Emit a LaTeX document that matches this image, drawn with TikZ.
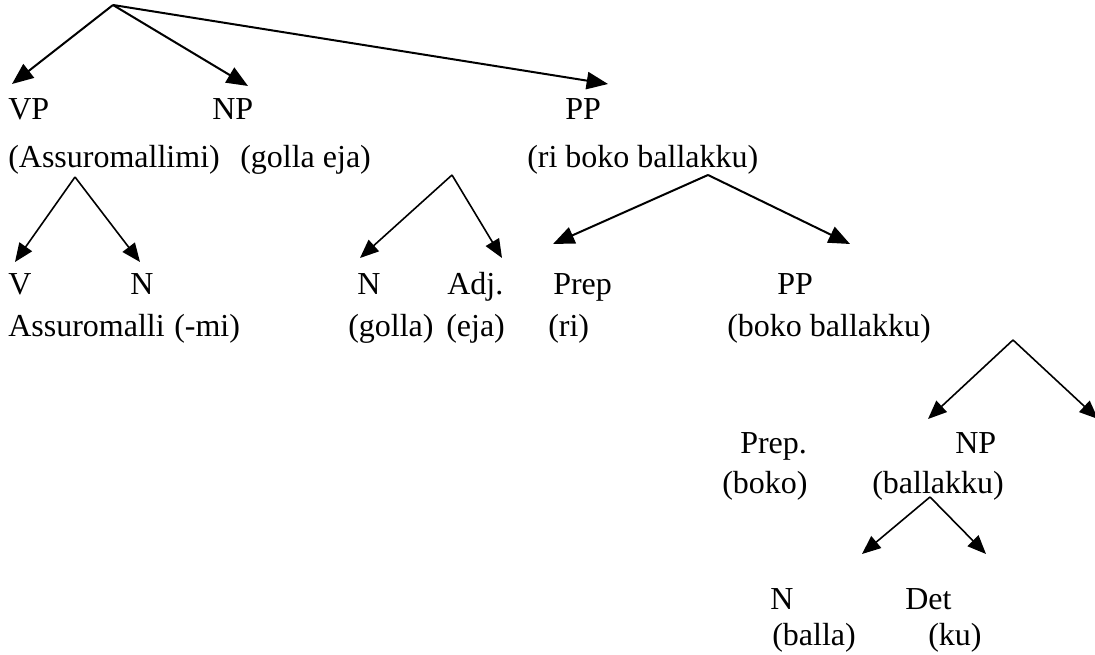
\documentclass[tikz,border=0pt]{standalone}
\usepackage{fontspec}
\setmainfont{Liberation Serif}
\usetikzlibrary{arrows.meta}
\begin{document}
\begin{tikzpicture}[x=0.75pt,y=-0.75pt,
  lbl/.style={anchor=base west,inner sep=0pt,font=\fontsize{24}{28}\selectfont},
  arr/.style={draw=black,line width=1.5pt,-{Triangle[length=16pt,width=13pt]}},
  arrs/.style={draw=black,line width=1.2pt,-{Triangle[length=14pt,width=11.5pt]}}]
\useasboundingbox (0,0) rectangle (1095,655);
% row 1
\node[lbl] (vp) at (8,120) {VP};
\node[lbl] (np) at (212,120) {NP};
\node[lbl] (pp) at (565,120) {PP};
% row 2
\node[lbl] (vpt) at (8,168) {(Assuromallimi)};
\node[lbl] (npt) at (240,168) {(golla eja)};
\node[lbl] (ppt) at (527,168) {(ri boko ballakku)};
% row 3
\node[lbl] (v) at (8,295) {V};
\node[lbl] (n1) at (130,295) {N};
\node[lbl] (n2) at (357,295) {N};
\node[lbl] (adj) at (447,295) {Adj.};
\node[lbl] (prep) at (553,295) {Prep};
\node[lbl] (pp2) at (777,295) {PP};
% row 4
\node[lbl] (vt) at (8,337) {Assuromalli};
\node[lbl] (n1t) at (174,337) {(-mi)};
\node[lbl] (n2t) at (348,337) {(golla)};
\node[lbl] (adjt) at (446,337) {(eja)};
\node[lbl] (prept) at (548,337) {(ri)};
\node[lbl] (pp2t) at (727,337) {(boko ballakku)};
% row 5/6
\node[lbl] (prep2) at (740,453) {Prep.};
\node[lbl] (np2) at (955,453) {NP};
\node[lbl] (prep2t) at (722,493) {(boko)};
\node[lbl] (np2t) at (872,493) {(ballakku)};
% row 7/8
\node[lbl] (n3) at (770,609) {N};
\node[lbl] (det) at (905,609) {Det};
\node[lbl] (n3t) at (772,645) {(balla)};
\node[lbl] (dett) at (928,645) {(ku)};
% connector coordinates
\coordinate (s) at (113,5);
\coordinate (vp-in) at (12,84);
\coordinate (np-in) at (248,86);
\coordinate (pp-in) at (608,84);
\coordinate (vp-out) at (75,177);
\coordinate (v-in) at (15,262);
\coordinate (n1-in) at (140,262);
\coordinate (np-out) at (452,175);
\coordinate (n2-in) at (360,258);
\coordinate (adj-in) at (502,258);
\coordinate (pp-out) at (708,175);
\coordinate (prep-in) at (553,244);
\coordinate (pp2-in) at (850,244);
\coordinate (pp2-out) at (1013,340);
\coordinate (prep2-in) at (928,419);
\coordinate (np2-in) at (1098,419);
\coordinate (np2-out) at (930,497);
\coordinate (n3-in) at (862,554);
\coordinate (det-in) at (986,554);
% connectors
\draw[arr] (s) -- (vp-in);
\draw[arr] (s) -- (np-in);
\draw[arr] (s) -- (pp-in);
\draw[arrs] (vp-out) -- (v-in);
\draw[arrs] (vp-out) -- (n1-in);
\draw[arrs] (np-out) -- (n2-in);
\draw[arrs] (np-out) -- (adj-in);
\draw[arr] (pp-out) -- (prep-in);
\draw[arr] (pp-out) -- (pp2-in);
\draw[arrs] (pp2-out) -- (prep2-in);
\draw[arrs] (pp2-out) -- (np2-in);
\draw[arrs] (np2-out) -- (n3-in);
\draw[arrs] (np2-out) -- (det-in);
\end{tikzpicture}
\end{document}
